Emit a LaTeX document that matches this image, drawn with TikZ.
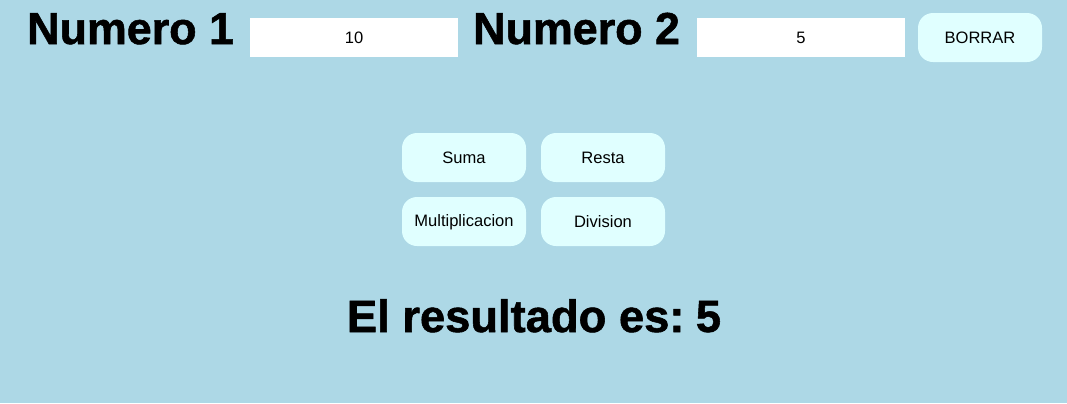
\documentclass[tikz,border=0pt]{standalone}
\usepackage{fontspec}
\setmainfont{Liberation Sans}
\newfontfamily\heavy{Liberation Sans Bold}[FakeBold=1.2]
\definecolor{bg}{HTML}{ADD8E6}
\definecolor{btn}{HTML}{E0FFFF}
\begin{document}
\begin{tikzpicture}[x=1bp,y=-1bp,
  field/.style={fill=white,draw=none},
  btnbox/.style={fill=btn,draw=none,rounded corners=15bp},
  small/.style={font=\fontsize{16.6}{19}\selectfont},
  big/.style={font=\heavy\fontsize{45}{50}\selectfont,inner sep=0pt,anchor=base west},
]
\useasboundingbox (0,0) rectangle (1067,403);
\fill[bg] (0,0) rectangle (1067,403);
\node[big] (n1) at (27,44) {Numero 1};
\node[big] (n2) at (473,44) {Numero 2};
\path[field] (250,18) rectangle (458,57);
\node[small] (v1) at (354,38) {10};
\path[field] (697,18) rectangle (905,57);
\node[small] (v2) at (801,38) {5};
\path[btnbox] (918,13) rectangle (1042,62);
\node[small] (borrar) at (980,38) {BORRAR};
\path[btnbox] (402,133) rectangle (526,182);
\node[small] (suma) at (464,158) {Suma};
\path[btnbox] (541,133) rectangle (665,182);
\node[small] (resta) at (603,158) {Resta};
\path[btnbox] (402,197) rectangle (526,246);
\node[small] (mult) at (464,222) {Multiplicacion};
\path[btnbox] (541,197) rectangle (665,246);
\node[small] (div) at (603,222) {Division};
\node[font=\heavy\fontsize{45.5}{50}\selectfont,inner sep=0pt,anchor=base] (res) at (534,332) {El resultado es:\hspace{-0.12em} 5};
\end{tikzpicture}
\end{document}
